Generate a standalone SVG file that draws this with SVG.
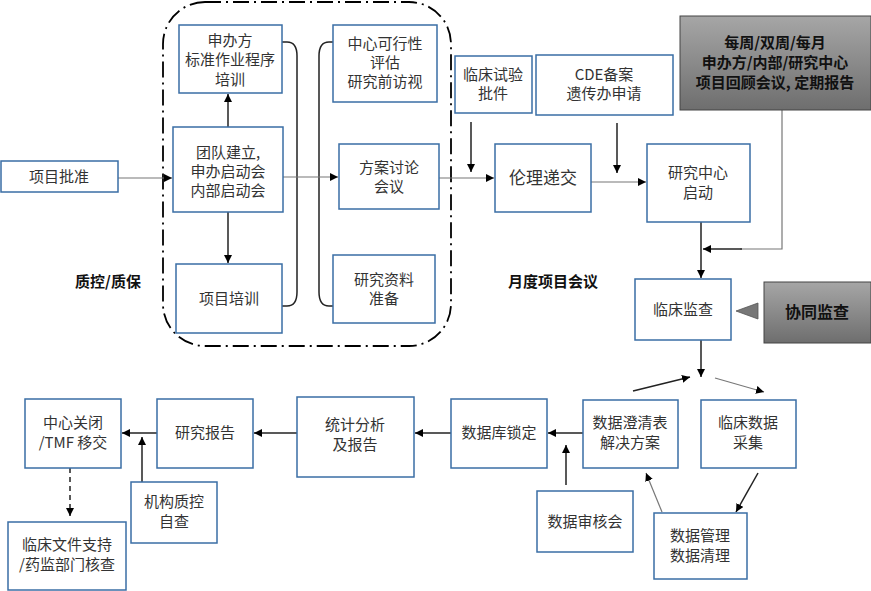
<svg xmlns="http://www.w3.org/2000/svg" width="871" height="591" viewBox="0 0 871 591">
<defs>
<linearGradient id="g" x1="0" y1="0" x2="0" y2="1"><stop offset="0" stop-color="#a6a6a6"/><stop offset="1" stop-color="#6e6e6e"/></linearGradient>
<marker id="a" viewBox="0 0 10 10" refX="10" refY="5" markerWidth="8" markerHeight="8" markerUnits="userSpaceOnUse" orient="auto"><path d="M0,0 L10,5 L0,10 z" fill="#000"/></marker>
</defs>
<style>
.b{fill:#fff;stroke:#3a6ea5;stroke-width:1.5}
.t{font-family:"Noto Sans CJK SC","Noto Sans",sans-serif;font-size:15px;fill:#333;text-anchor:middle}
.k{font-family:"Noto Sans CJK SC","Noto Sans",sans-serif;font-size:15px;font-weight:bold;fill:#111;text-anchor:middle}
.l{fill:none;stroke:#222;stroke-width:1.5}
.lg{fill:none;stroke:#777;stroke-width:1.2}
.gb{fill:url(#g);stroke:#444;stroke-width:1}
</style>
<rect width="871" height="591" fill="#fff"/>
<g id="qa-frame"><rect x="163" y="2" width="288" height="344" rx="42" fill="none" stroke="#000" stroke-width="1.8" stroke-dasharray="16,5,2,5"/></g>
<g id="connectors">
<path class="l" d="M282,42 H287 Q297,42 297,56 V292 Q297,306 287,306 H282"/>
<path class="l" d="M333,42 H329 Q319,42 319,56 V292 Q319,306 329,306 H333"/>
<line class="lg" x1="118" y1="178" x2="172" y2="178" marker-end="url(#a)"/>
<line class="l" x1="228" y1="127" x2="228" y2="94" marker-end="url(#a)"/>
<line class="l" x1="228" y1="212" x2="228" y2="263" marker-end="url(#a)"/>
<line class="lg" x1="283" y1="177" x2="338" y2="177" marker-end="url(#a)"/>
<line class="lg" x1="439" y1="178" x2="494" y2="178" marker-end="url(#a)"/>
<line class="l" x1="471" y1="122" x2="471" y2="172" marker-end="url(#a)"/>
<line class="l" x1="617" y1="123" x2="617" y2="173" marker-end="url(#a)"/>
<line class="lg" x1="591" y1="182" x2="646" y2="182" marker-end="url(#a)"/>
<path class="lg" d="M782,110 V249 H740"/>
<line class="l" x1="742" y1="249" x2="703" y2="249" marker-end="url(#a)"/>
<line class="l" x1="701" y1="222" x2="701" y2="278" marker-end="url(#a)"/>
<path d="M758,303 L736,311 L758,319 z" fill="#777" stroke="#555" stroke-width="0.8"/>
<line class="l" x1="701" y1="340" x2="701" y2="377" marker-end="url(#a)"/>
<line class="l" x1="633" y1="391" x2="690" y2="377" marker-end="url(#a)"/>
<line class="lg" x1="715" y1="378" x2="764" y2="392" marker-end="url(#a)"/>
<line class="l" x1="758" y1="473" x2="736" y2="512" marker-end="url(#a)"/>
<line class="lg" x1="662" y1="512" x2="646" y2="473" marker-end="url(#a)"/>
<line class="l" x1="583" y1="433" x2="548" y2="433" marker-end="url(#a)"/>
<line class="l" x1="566" y1="485" x2="566" y2="445" marker-end="url(#a)"/>
<line class="l" x1="451" y1="433" x2="415" y2="433" marker-end="url(#a)"/>
<line class="l" x1="297" y1="433" x2="254" y2="433" marker-end="url(#a)"/>
<line class="l" x1="157" y1="433" x2="122" y2="433" marker-end="url(#a)"/>
<line class="l" x1="142" y1="482" x2="142" y2="437" marker-end="url(#a)"/>
<line class="l" x1="70" y1="468" x2="70" y2="516" stroke-dasharray="5,4" marker-end="url(#a)"/>
</g>
<g id="n-approve"><rect class="b" x="1" y="161" width="117" height="31"/><text class="t" x="59" y="182">项目批准</text></g>
<g id="n-sop"><rect class="b" x="179" y="25" width="103" height="68"/><text class="t" x="230" y="46">申办方</text><text class="t" x="230" y="65">标准作业程序</text><text class="t" x="230" y="85">培训</text></g>
<g id="n-team"><rect class="b" x="173" y="127" width="110" height="85"/><text class="t" x="228" y="158">团队建立,</text><text class="t" x="228" y="177">申办启动会</text><text class="t" x="228" y="196">内部启动会</text></g>
<g id="n-train"><rect class="b" x="176" y="264" width="106" height="69"/><text class="t" x="229" y="304">项目培训</text></g>
<g id="n-feas"><rect class="b" x="333" y="25" width="104" height="77"/><text class="t" x="385" y="49">中心可行性</text><text class="t" x="385" y="68">评估</text><text class="t" x="385" y="87">研究前访视</text></g>
<g id="n-proto"><rect class="b" x="339" y="144" width="100" height="65"/><text class="t" x="389" y="173">方案讨论</text><text class="t" x="389" y="192">会议</text></g>
<g id="n-docs"><rect class="b" x="333" y="255" width="102" height="68"/><text class="t" x="384" y="285">研究资料</text><text class="t" x="384" y="304">准备</text></g>
<g id="n-ctapp"><rect class="b" x="455" y="56" width="77" height="57"/><text class="t" x="493" y="80">临床试验</text><text class="t" x="493" y="99">批件</text></g>
<g id="n-cde"><rect class="b" x="536" y="55" width="137" height="60"/><text class="t" x="604" y="80">CDE备案</text><text class="t" x="604" y="99">遗传办申请</text></g>
<g id="n-ethics"><rect class="b" x="495" y="144" width="96" height="68"/><text class="t" x="543" y="184" style="font-size:17px">伦理递交</text></g>
<g id="n-start"><rect class="b" x="647" y="144" width="103" height="78"/><text class="t" x="698" y="178">研究中心</text><text class="t" x="698" y="198">启动</text></g>
<g id="n-review"><rect class="gb" x="680" y="16" width="191" height="94"/><text class="k" x="775" y="48">每周/双周/每月</text><text class="k" x="775" y="68">申办方/内部/研究中心</text><text class="k" x="775" y="88">项目回顾会议, 定期报告</text></g>
<g id="n-monitor"><rect class="b" x="635" y="279" width="96" height="61"/><text class="t" x="683" y="315">临床监查</text></g>
<g id="n-comonitor"><rect class="gb" x="764" y="282" width="107" height="61"/><text class="k" x="817" y="318" style="font-size:16px">协同监查</text></g>
<g id="n-dcf"><rect class="b" x="583" y="400" width="95" height="68"/><text class="t" x="630" y="428">数据澄清表</text><text class="t" x="630" y="448">解决方案</text></g>
<g id="n-collect"><rect class="b" x="701" y="400" width="95" height="68"/><text class="t" x="748" y="428">临床数据</text><text class="t" x="748" y="448">采集</text></g>
<g id="n-dm"><rect class="b" x="654" y="513" width="93" height="66"/><text class="t" x="700" y="541">数据管理</text><text class="t" x="700" y="561">数据清理</text></g>
<g id="n-dreview"><rect class="b" x="537" y="491" width="96" height="61"/><text class="t" x="585" y="527">数据审核会</text></g>
<g id="n-lock"><rect class="b" x="451" y="399" width="96" height="69"/><text class="t" x="499" y="438">数据库锁定</text></g>
<g id="n-stat"><rect class="b" x="297" y="397" width="117" height="80"/><text class="t" x="355" y="430">统计分析</text><text class="t" x="355" y="450">及报告</text></g>
<g id="n-report"><rect class="b" x="157" y="399" width="96" height="69"/><text class="t" x="205" y="438">研究报告</text></g>
<g id="n-close"><rect class="b" x="25" y="399" width="96" height="69"/><text class="t" x="73" y="428">中心关闭</text><text class="t" x="73" y="448">/TMF 移交</text></g>
<g id="n-selfqc"><rect class="b" x="131" y="482" width="86" height="61"/><text class="t" x="174" y="507">机构质控</text><text class="t" x="174" y="527">自查</text></g>
<g id="n-inspect"><rect class="b" x="8" y="522" width="118" height="68"/><text class="t" x="67" y="550">临床文件支持</text><text class="t" x="67" y="570">/药监部门核查</text></g>
<g id="labels"><text class="k" x="108" y="287">质控/质保</text><text class="k" x="553" y="287">月度项目会议</text></g>
</svg>
